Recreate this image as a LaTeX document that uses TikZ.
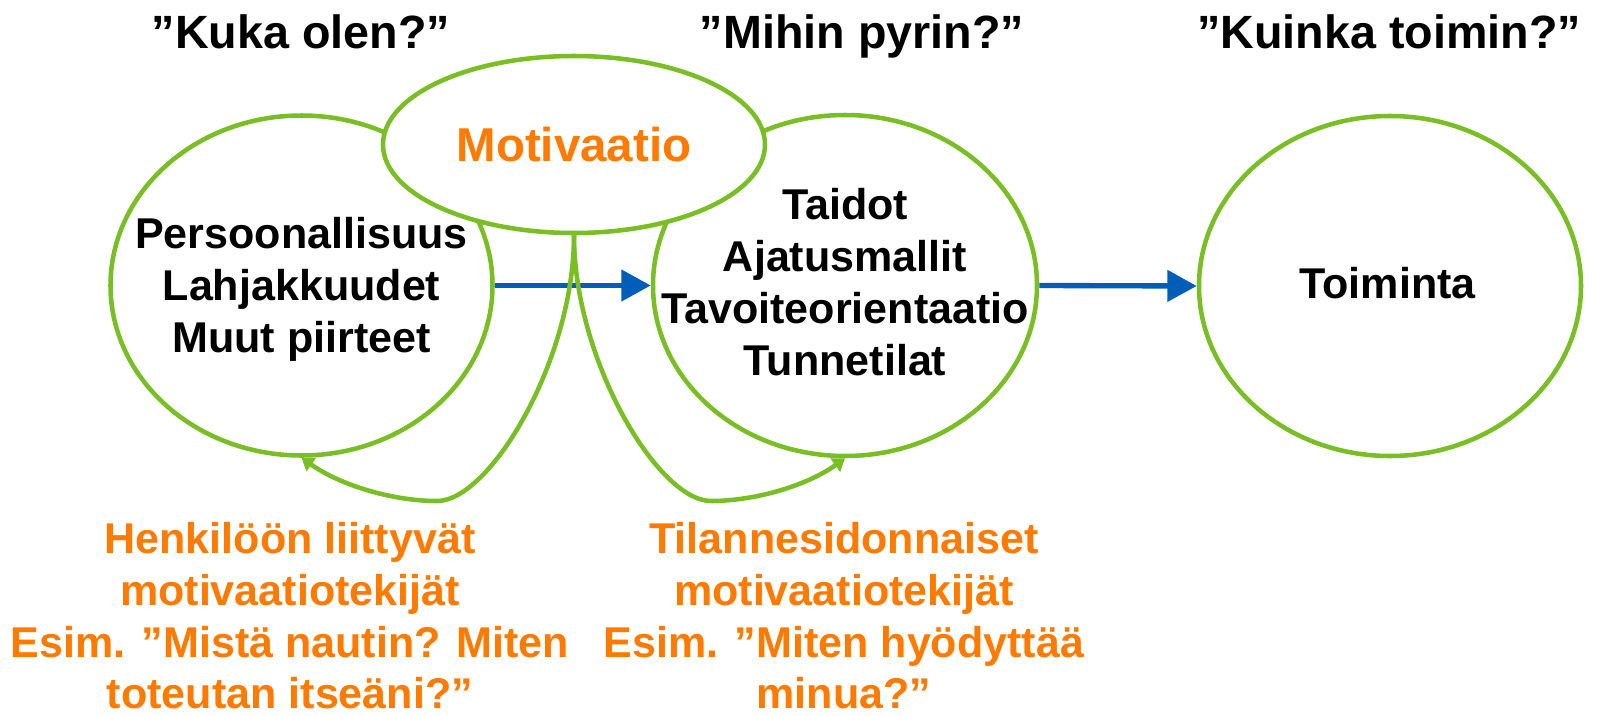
\documentclass[tikz,border=0pt]{standalone}
\usepackage{fontspec}
\setmainfont{Liberation Sans}
\usetikzlibrary{shapes.geometric,arrows.meta}
\definecolor{lgreen}{RGB}{122,190,38}
\definecolor{morange}{RGB}{255,122,0}
\definecolor{mblue}{RGB}{0,94,184}
\begin{document}
\begin{tikzpicture}[x=0.75pt,y=-0.75pt,
  bubble/.style={ellipse, draw=lgreen, line width=3.4pt, inner sep=0pt, fill=white},
  bodytxt/.style={font=\fontsize{32.3}{39}\selectfont\bfseries, inner sep=0pt, anchor=base},
  orangetxt/.style={bodytxt, text=morange},
  headtxt/.style={font=\fontsize{35}{42}\selectfont\bfseries, inner sep=0pt, anchor=base},
  bluearrow/.style={draw=mblue, line width=4pt, -{Triangle[length=22pt,width=23pt]}},
  greenarrow/.style={draw=lgreen, line width=3.4pt, -{Triangle[length=9pt,width=12pt]}}
]
\useasboundingbox (0,0) rectangle (1597,715);

% circles
\node[bubble, minimum width=286.5pt, minimum height=255pt] (L) at (301.5,285.5) {};
\node[bubble, minimum width=288pt, minimum height=255.75pt] (M) at (845,285.5) {};
\node[bubble, minimum width=286.5pt, minimum height=255pt] (R) at (1390,286) {};

% blue arrows
\draw[bluearrow] (L.east) -- (M.west);
\draw[bluearrow] (M.east) -- (R.west);

% motivation ellipse
\node[bubble, minimum width=286.5pt, minimum height=132.75pt, text=morange,
      font=\fontsize{35.6}{42}\selectfont\bfseries] (Mot) at (574,144.5) {Motivaatio};

% green feedback curves
\draw[greenarrow] (Mot.south) .. controls (574,360) and (490,501) .. (437,501)
   .. controls (392,501) and (340,485) .. (L.south);
\draw[greenarrow] (Mot.south) .. controls (574,360) and (658,501) .. (711,501)
   .. controls (756,501) and (808,485) .. (M.south);

% headers
\node[headtxt] (h1) at (301,48) {”Kuka olen?”};
\node[headtxt] (h2) at (862,48) {”Mihin pyrin?”};
\node[headtxt] (h3) at (1389,48) {”Kuinka toimin?”};

% left circle text
\node[bodytxt] (l1) at (301.5,248) {Persoonallisuus};
\node[bodytxt] (l2) at (301.5,300) {Lahjakkuudet};
\node[bodytxt] (l3) at (301.5,352) {Muut piirteet};

% middle circle text
\node[bodytxt] (m1) at (845,219) {Taidot};
\node[bodytxt] (m2) at (845,271) {Ajatusmallit};
\node[bodytxt] (m3) at (845,323) {Tavoiteorientaatio};
\node[bodytxt] (m4) at (845,375) {Tunnetilat};

% right circle text
\node[bodytxt] (r1) at (1387.5,298) {Toiminta};

% bottom left orange
\node[orangetxt] (bl1) at (290,553) {Henkilöön liittyvät};
\node[orangetxt] (bl2) at (290,605) {motivaatiotekijät};
\node[orangetxt] (bl3) at (290,657) {Esim. ”Mistä nautin? Miten};
\node[orangetxt] (bl4) at (290,708) {toteutan itseäni?”};

% bottom middle orange
\node[orangetxt] (bm1) at (844,553) {Tilannesidonnaiset};
\node[orangetxt] (bm2) at (844,605) {motivaatiotekijät};
\node[orangetxt] (bm3) at (844,657) {Esim. ”Miten hyödyttää};
\node[orangetxt] (bm4) at (844,708) {minua?”};
\end{tikzpicture}
\end{document}
